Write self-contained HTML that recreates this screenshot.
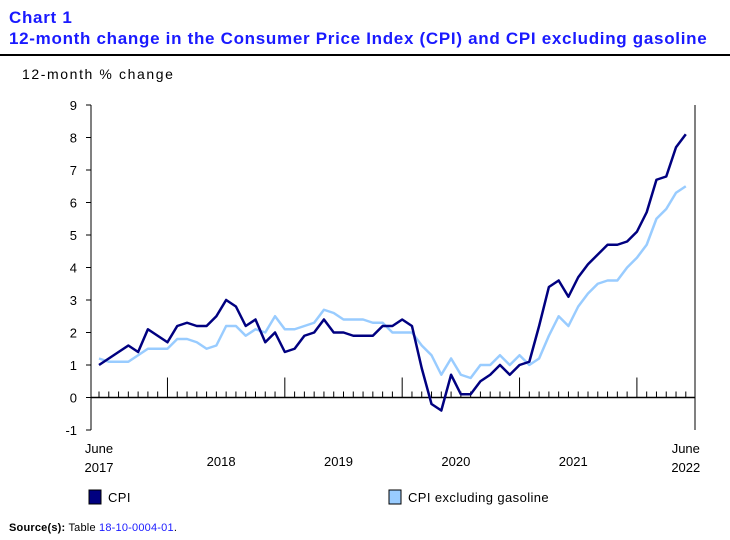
<!DOCTYPE html>
<html><head><meta charset="utf-8"><style>
body{margin:0;background:#fff;width:730px;height:540px;overflow:hidden;font-family:"Liberation Sans",Verdana,sans-serif}
.t{position:absolute;left:9px;color:#1a1aff;font-weight:bold;font-size:17px;letter-spacing:0.7px}
</style></head><body>
<div class="t" style="top:8px">Chart 1</div>
<div class="t" style="top:29px">12-month change in the Consumer Price Index (CPI) and CPI excluding gasoline</div>
<div style="position:absolute;left:0;top:54px;width:730px;height:2px;background:#000"></div>
<svg id="c" width="730" height="540" style="position:absolute;left:0;top:0" font-family="Liberation Sans, Verdana, sans-serif"></svg>
<div style="position:absolute;left:9px;top:522px;font-size:11px;letter-spacing:0.2px"><b>Source(s):</b> Table <span style="color:#1a1aff">18-10-0004-01</span>.</div>
<script>
const cpi=[1.0,1.2,1.4,1.6,1.4,2.1,1.9,
1.7,2.2,2.3,2.2,2.2,2.5,3.0,2.8,2.2,2.4,1.7,2.0,
1.4,1.5,1.9,2.0,2.4,2.0,2.0,1.9,1.9,1.9,2.2,2.2,
2.4,2.2,0.9,-0.2,-0.4,0.7,0.1,0.1,0.5,0.7,1.0,0.7,
1.0,1.1,2.2,3.4,3.6,3.1,3.7,4.1,4.4,4.7,4.7,4.8,
5.1,5.7,6.7,6.8,7.7,8.1];
const exGas=[1.2,1.1,1.1,1.1,1.3,1.5,1.5,
1.5,1.8,1.8,1.7,1.5,1.6,2.2,2.2,1.9,2.1,2.0,2.5,
2.1,2.1,2.2,2.3,2.7,2.6,2.4,2.4,2.4,2.3,2.3,2.0,
2.0,2.0,1.6,1.3,0.7,1.2,0.7,0.6,1.0,1.0,1.3,1.0,
1.3,1.0,1.2,1.9,2.5,2.2,2.8,3.2,3.5,3.6,3.6,4.0,
4.3,4.7,5.5,5.8,6.3,6.5];
const yTicks=[-1,0,1,2,3,4,5,6,7,8,9];
const yearLabels=["2018","2019","2020","2021"];
const NS="http://www.w3.org/2000/svg",s=document.getElementById('c');
const X=i=>99+i*9.78, Y=v=>397.5-v*32.5;
function el(t,a,p){const e=document.createElementNS(NS,t);for(const k in a)e.setAttribute(k,a[k]);(p||s).appendChild(e);return e;}
function tx(x,y,str,anchor,size){const e=el('text',{x:x,y:y,'text-anchor':anchor,'font-size':size||13,fill:'#000'});e.textContent=str;return e;}
let e=tx(22,79,'12-month % change','start',14);
e.setAttribute('letter-spacing','1.6');

el('line',{x1:91,y1:Y(9),x2:91,y2:Y(-1),stroke:'#000'});
el('line',{x1:695,y1:Y(9),x2:695,y2:Y(-1),stroke:'#000'});
yTicks.forEach(v=>{el('line',{x1:86,x2:91,y1:Y(v),y2:Y(v),stroke:'#000'});
const t=tx(77,Y(v)+5,String(v),'end');});
el('line',{x1:91,x2:695,y1:Y(0),y2:Y(0),stroke:'#000','stroke-width':1.5});
for(let i=0;i<cpi.length;i++){const major=(i-7)%12===0&&i>=7;
el('line',{x1:X(i),x2:X(i),y1:Y(0),y2:major?Y(0)-20:Y(0)-6,stroke:'#000'});}
yearLabels.forEach((y,k)=>{const t=tx(X(13+12*k)-5,466,y,'middle');});
[[X(0),'June','2017'],[X(60),'June','2022']].forEach(([x,a,b])=>{
let t=tx(x,453,a,'middle');
t=tx(x,472,b,'middle');});
function line(d,c,n){const p=el('polyline',{points:d.map((v,i)=>X(i)+','+Y(v)).join(' '),fill:'none',stroke:c,'stroke-width':2.5,'stroke-linejoin':'round'});
}
line(exGas,'#99ccff','series-cpi-ex-gasoline');
line(cpi,'#000080','series-cpi');
function leg(x,c,lab,n){const g=el('g',{});
el('rect',{x:x,y:490,width:12,height:14,fill:c,stroke:'#000'},g);
const t=el('text',{x:x+19,y:502,'font-size':13,'letter-spacing':0.4},g);t.textContent=lab;}
leg(89,'#000080','CPI','legend-entry-cpi');
leg(389,'#99ccff','CPI excluding gasoline','legend-entry-cpi-ex-gasoline');
</script>
</body></html>
